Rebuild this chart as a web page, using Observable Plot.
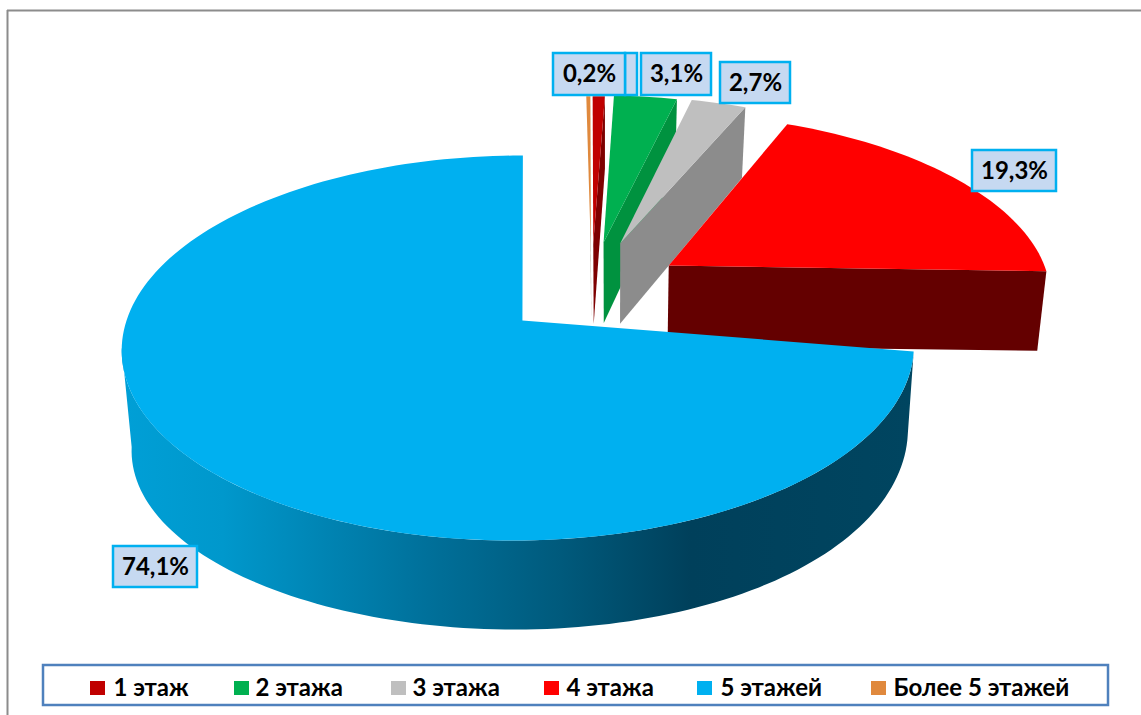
<!DOCTYPE html>
<html>
<head>
<meta charset="utf-8">
<style>html,body{margin:0;padding:0;background:#fff}svg{display:block}</style>
<script src="https://cdn.jsdelivr.net/npm/d3@7"></script>
<script src="https://cdn.jsdelivr.net/npm/@observablehq/plot@0.6"></script>
</head>
<body>
<div id="chart"></div>
<script>
const categories = ["1 этаж","2 этажа","3 этажа","4 этажа","5 этажей","Более 5 этажей"];
const shares = [0.6,3.1,2.7,19.3,74.1,0.2];
const labelTexts = ["","3,1%","2,7%","19,3%","74,1%","0,2%"];
const topColors = ["#C00000","#00B050","#BFBFBF","#FF0000","#00B0F0","#E0893D"];
const faceColors = ["#7E0000","#00923F","#8C8C8C","#640000","#0090C8","#7A4A20"];
// explosion of every slice in unit-disc coordinates
const explodeU = [0.197,0.225,0.27,0.396,0,0.19];
const explodeV = [-0.433,-0.44,-0.433,-0.304,0,-0.433];
const drawOrder = [5,0,1,2,3];
const BLUE = 4, RED = 3;

// projection of the disc
const cx=518, cy=320, rx=392, ry=188.6, persp=1/7;
function topPt(u,v){const w=1-persp*v;return [cx+(rx*u-5*v)/w, cy+ry*v/w];}
function bottomPt(u,v){
  const [x,y]=topPt(u,v);
  const h=86-10*u+(v>0?3*v+10*u*v:8*v)+5*u*u;
  return [x+2-8*u, y+h];
}
const rad=d=>d*Math.PI/180;
const pie=d3.pie().sort(null).value(d=>d).startAngle(rad(0.72)).endAngle(rad(360.72))(shares);
const warp=(i,a)=>i===BLUE?a+rad(6)*Math.sin(a):i===RED?a-rad(1.4)*Math.sin(a):a;
const disc=(i,a)=>{const t=warp(i,a);return [explodeU[i]+Math.sin(t),explodeV[i]-Math.cos(t)];};
const rim=(i,a0,a1,fn)=>{const n=Math.max(2,Math.ceil((a1-a0)/rad(1.5)));return d3.range(n+1).map(k=>fn(...disc(i,a0+(a1-a0)*k/n)));};

let id=0;
function add(list,pts,color){const k=id++;pts.forEach(p=>list.push({x:p[0],y:p[1],k,color}));}

const backSlices=[], blueWall=[], blueTop=[];
for(const i of drawOrder){
  const {startAngle:a0,endAngle:a1}=pie[i];
  const U=explodeU[i],V=explodeV[i];
  add(backSlices,[topPt(U,V),topPt(...disc(i,a1)),bottomPt(...disc(i,a1)),bottomPt(U,V)],faceColors[i]);
  add(backSlices,[topPt(U,V),...rim(i,a0,a1,topPt)],topColors[i]);
}
{
  const {startAngle:a0,endAngle:a1}=pie[BLUE];
  const wallEnd=rad(268);
  add(blueWall,[...rim(BLUE,a0,wallEnd,topPt),...rim(BLUE,a0,wallEnd,bottomPt).reverse()],"x");
  // the apex of the big slice sits slightly right of the ellipse centre
  add(blueTop,[topPt(0.01,0),...rim(BLUE,a0,a1,topPt)],topColors[BLUE]);
}

// data labels: box centre and half sizes
const labelX=[631,676,755,1014,155,589];
const labelY=[74,74,82.5,170.5,566.5,74];
const labelHW=[6,35,35,42,42,36];
const labelHH=[21,21,20.5,20.5,20.5,21];
const labelRows=[0,5,1,2,3,4].map(i=>({x1:labelX[i]-labelHW[i],x2:labelX[i]+labelHW[i],y1:labelY[i]-labelHH[i],y2:labelY[i]+labelHH[i],x:labelX[i],y:labelY[i],t:labelTexts[i]}));

// legend
const swatchX=[90,234,391,544,697,871];
const textX=[113,255,412,566,720,893];
const legendRows=categories.map((c,i)=>({c,sx:swatchX[i],tx:textX[i],color:topColors[i]}));

// shading of the outer wall
const wallStops=[[125,"#009FD6"],[222,"#0098CC"],[428,"#00709A"],[560,"#005A7C"],[690,"#00405B"],[910,"#004560"]];
function wallGradient(){
  const NS="http://www.w3.org/2000/svg";
  const defs=document.createElementNS(NS,"defs");
  const g=document.createElementNS(NS,"linearGradient");
  g.setAttribute("id","rimGrad");
  g.setAttribute("gradientUnits","userSpaceOnUse");
  g.setAttribute("x1",wallStops[0][0]);g.setAttribute("x2",wallStops[wallStops.length-1][0]);
  g.setAttribute("y1",0);g.setAttribute("y2",0);
  const span=wallStops[wallStops.length-1][0]-wallStops[0][0];
  for(const [x,c] of wallStops){
    const s=document.createElementNS(NS,"stop");
    s.setAttribute("offset",(x-wallStops[0][0])/span);
    s.setAttribute("stop-color",c);
    g.append(s);
  }
  defs.append(g);
  return defs;
}

const plot=Plot.plot({
  width:1141,height:715,margin:0,
  style:{background:"#fff",overflow:"visible"},
  x:{domain:[0,1141],range:[0,1141],axis:null},
  y:{domain:[0,715],range:[0,715],axis:null},
  color:{type:"identity"},
  marks:[
    wallGradient,
    Plot.ruleY([10],{x1:7,x2:1141,stroke:"#8C8C8C",strokeWidth:2}),
    Plot.ruleX([7],{y1:10,y2:715,stroke:"#8C8C8C",strokeWidth:2}),
    Plot.line(backSlices,{x:"x",y:"y",z:"k",fill:"color",stroke:"none",curve:"linear"}),
    Plot.line(blueWall,{x:"x",y:"y",z:"k",fill:"url(#rimGrad)",stroke:"none",curve:"linear"}),
    Plot.line(blueTop,{x:"x",y:"y",z:"k",fill:"color",stroke:"none",curve:"linear"}),
    Plot.rect(labelRows,{x1:"x1",x2:"x2",y1:"y1",y2:"y2",fill:"#C6D9F1",stroke:"#00B0F0",strokeWidth:2.5}),
    Plot.text(labelRows,{x:"x",y:"y",text:"t",fontFamily:"Lato",fontWeight:"bold",fontSize:24,fill:"#000"}),
    Plot.rect([{x1:43,x2:1108,y1:665,y2:705}],{x1:"x1",x2:"x2",y1:"y1",y2:"y2",fill:"#fff",stroke:"#4F81BD",strokeWidth:2.5}),
    Plot.rect(legendRows,{x1:"sx",x2:d=>d.sx+15,y1:()=>681,y2:()=>695,fill:"color"}),
    Plot.text(legendRows,{x:"tx",y:()=>688,text:"c",textAnchor:"start",fontFamily:"Lato",fontWeight:"bold",fontSize:24,fill:"#000"})
  ]
});
document.getElementById("chart").append(plot);
</script>
</body>
</html>
